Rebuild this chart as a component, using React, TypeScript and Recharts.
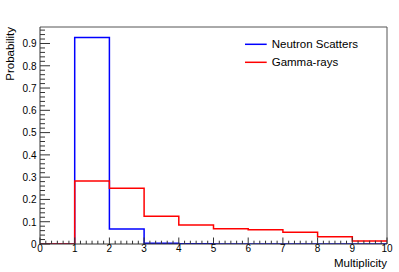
import React from 'react';
import { ComposedChart, Line, XAxis, YAxis, ReferenceLine, Legend } from 'recharts';

// Bin low edges (last entry closes the final bin at 10)
const binEdges = [0, 1, 2, 3, 4, 5, 6, 7, 8, 9, 10];
const neutronScatters = [0, 0.927, 0.067, 0.003, 0.001, 0, 0, 0, 0, 0];
const gammaRays = [0, 0.283, 0.25, 0.124, 0.085, 0.069, 0.064, 0.0525, 0.033, 0.0135];
const xTickLabels = ['0', '1', '2', '3', '4', '5', '6', '7', '8', '9', '10'];
const yTickLabels = ['0', '0.1', '0.2', '0.3', '0.4', '0.5', '0.6', '0.7', '0.8', '0.9'];
const seriesNames = ['Neutron Scatters', 'Gamma-rays'];
const seriesColors = ['#0000ff', '#ff0000'];

const Y_MAX = 0.974;
const X_SUB = 6; // minor divisions per unit on x
const Y_MINOR = 0.02;

const data = binEdges.map((x, i) => ({
  x,
  neutron: i < neutronScatters.length ? neutronScatters[i] : neutronScatters[neutronScatters.length - 1],
  gamma: i < gammaRays.length ? gammaRays[i] : gammaRays[gammaRays.length - 1],
}));

const xTicks: number[] = [];
for (let i = 0; i <= 10 * X_SUB; i++) xTicks.push(i / X_SUB);
const yTicks: number[] = [];
for (let i = 0; i * Y_MINOR <= Y_MAX + 1e-9; i++) yTicks.push(i * Y_MINOR);

const FONT = '"Liberation Sans", Arial, Helvetica, sans-serif';

const XTick = (props: any) => {
  const { x, y, payload } = props;
  const v = payload.value;
  const major = Math.abs(v - Math.round(v)) < 1e-6;
  return (
    <g>
      <line x1={x} x2={x} y1={y} y2={y - (major ? 6.5 : 3.3)} stroke="#333" strokeWidth={1} />
      {major && (
        <text x={x} y={y + 8} textAnchor="middle" fontSize={10} fontFamily={FONT} fill="#000">
          {xTickLabels[Math.round(v)]}
        </text>
      )}
    </g>
  );
};

const YTick = (props: any) => {
  const { x, y, payload } = props;
  const v = payload.value;
  const major = Math.abs(v * 10 - Math.round(v * 10)) < 1e-6;
  return (
    <g>
      <line x1={x} x2={x + (major ? 10 : 5)} y1={y} y2={y} stroke="#333" strokeWidth={1} />
      {major && (
        <text x={x - 3.5} y={y + 3.8} textAnchor="end" fontSize={10} fontFamily={FONT} fill="#000">
          {yTickLabels[Math.round(v * 10)]}
        </text>
      )}
    </g>
  );
};

const LegendContent = () => (
  <svg width={150} height={40} style={{ display: 'block' }}>
    {seriesNames.map((name, i) => (
      <g key={name}>
        <line x1={5} x2={26.7} y1={10.3 + i * 18} y2={10.3 + i * 18} stroke={seriesColors[i]} strokeWidth={1.5} />
        <text x={31.7} y={14.4 + i * 18} fontSize={11.5} fontFamily={FONT} fill="#000">
          {name}
        </text>
      </g>
    ))}
  </svg>
);

export default function App() {
  return (
    <div style={{ position: 'absolute', left: 0, top: 0, width: 399, height: 272, background: '#fff' }}>
      <ComposedChart
        width={399}
        height={272}
        data={data}
        margin={{ top: 27, right: 12, bottom: 0, left: 0 }}
      >
        <XAxis
          dataKey="x"
          type="number"
          domain={[0, 10]}
          ticks={xTicks}
          interval={0}
          height={28}
          tickSize={0}
          tickMargin={0}
          tickLine={false}
          tick={<XTick />}
          axisLine={{ stroke: '#333', strokeWidth: 1 }}
          allowDataOverflow
        />
        <YAxis
          type="number"
          domain={[0, Y_MAX]}
          ticks={yTicks}
          interval={0}
          width={40}
          tickSize={0}
          tickMargin={0}
          tickLine={false}
          tick={<YTick />}
          axisLine={{ stroke: '#333', strokeWidth: 1 }}
          allowDataOverflow
        />
        <ReferenceLine y={Y_MAX} stroke="#555" strokeWidth={1} ifOverflow="extendDomain" />
        <ReferenceLine x={10} stroke="#555" strokeWidth={1} ifOverflow="extendDomain" />
        <Line
          type="stepAfter"
          dataKey="neutron"
          stroke={seriesColors[0]}
          strokeWidth={1.5}
          dot={false}
          activeDot={false}
          isAnimationActive={false}
        />
        <Line
          type="stepAfter"
          dataKey="gamma"
          stroke={seriesColors[1]}
          strokeWidth={1.5}
          dot={false}
          activeDot={false}
          isAnimationActive={false}
        />
        <Legend
          layout="vertical"
          align="center"
          verticalAlign="middle"
          content={<LegendContent />}
          wrapperStyle={{ position: 'absolute', left: 240, top: 34, width: 150, height: 40 }}
        />
        <text x={387} y={266.5} textAnchor="end" fontSize={11.5} fontFamily={FONT} fill="#000">
          Multiplicity
        </text>
        <text
          x={14}
          y={27}
          transform="rotate(-90 14 27)"
          textAnchor="end"
          fontSize={11.5}
          fontFamily={FONT}
          fill="#000"
        >
          Probability
        </text>
      </ComposedChart>
    </div>
  );
}
